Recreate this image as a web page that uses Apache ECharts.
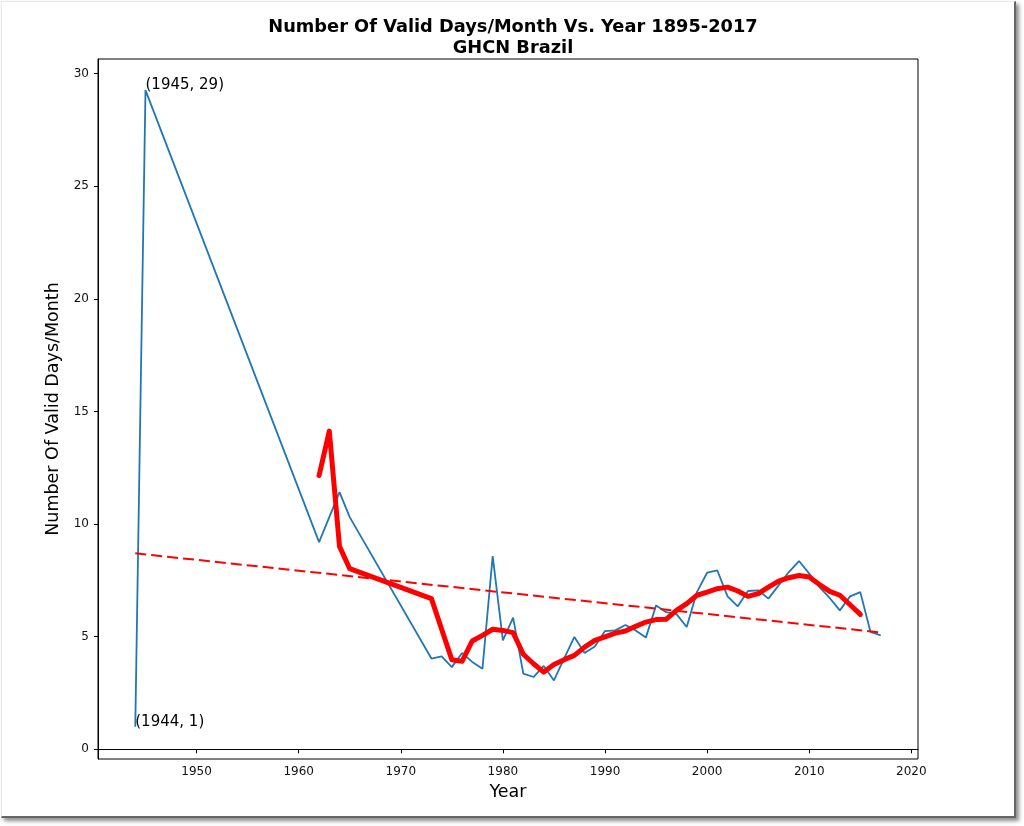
<!DOCTYPE html>
<html>
<head>
<meta charset="utf-8">
<script src="https://cdn.jsdelivr.net/npm/echarts@6/dist/echarts.min.js"></script>
<style>
html,body{margin:0;padding:0;background:#fff;}
#main{position:absolute;left:0;top:0;width:1024px;height:826px;}
.frame{position:absolute;left:1px;top:1px;width:1012px;height:814px;border:1px solid #e8e8e8;border-right:2px solid #666;border-bottom:2px solid #666;box-shadow:3px 3px 4px rgba(0,0,0,0.45);pointer-events:none;}
</style>
</head>
<body>
<div id="main"></div>
<div class="frame"></div>
<script>
// yearly valid days/month (blue)
const years = [1944,1945,1962,1964,1965,1973,1974,1975,1976,1977,1978,1979,1980,1981,1982,1983,1984,1985,1986,1987,1988,1989,1990,
	1991,1992,1993,1994,1995,1996,1997,1998,1999,2000,2001,2002,2003,2004,2005,2006,2007,2008,2009,2010,2011,2012,2013,2014,2015,2016,2017];
const days = [1,29.27,9.2,11.42,10.31,4.03,4.13,3.65,4.28,3.88,3.58,8.58,4.84,5.85,3.36,3.21,3.70,3.06,4.04,4.99,4.28,4.57,5.25,
	5.28,5.52,5.28,4.96,6.39,6.09,6.0,5.43,6.98,7.84,7.94,6.79,6.35,7.03,7.06,6.69,7.28,7.87,8.36,7.80,7.2,6.72,6.17,6.79,6.98,5.21,5.06];
// smoothed (thick red)
const avgYears = [1962,1963,1964,1965,1973,1975,1976,1977,1978,1979,1980,1981,1982,1983,1984,1985,1986,1987,1988,1989,1990,
	1991,1992,1993,1994,1995,1996,1997,1998,1999,2000,2001,2002,2003,2004,2005,2006,2007,2008,2009,2010,2011,2012,2013,2014,2015];
const avgDays = [12.16,14.13,9.01,8.02,6.69,3.98,3.91,4.81,5.06,5.33,5.28,5.18,4.22,3.8,3.43,3.77,3.98,4.17,4.54,4.84,4.99,
	5.16,5.25,5.46,5.65,5.76,5.78,6.17,6.47,6.84,6.98,7.13,7.2,7.03,6.79,6.91,7.2,7.47,7.62,7.72,7.65,7.32,7.01,6.84,6.42,5.99];
// trend line ends
const trendYears = [1944,2017];
const trendDays = [8.7,5.19];
// annotations
const notes = [[1945,29.27,'(1945, 29)'],[1944,1,'(1944, 1)']];
const xTicks = [1950,1960,1970,1980,1990,2000,2010,2020];
const yTicks = [0,5,10,15,20,25,30];

const font = 'DejaVu Sans';
const pairs = (xs,ys) => xs.map((x,i)=>[x,ys[i]]);

let myChart = echarts.init(document.getElementById('main'));
let option = {
	animation:false,
	backgroundColor:'#fff',
	title:{
		text:'Number Of Valid Days/Month Vs. Year 1895-2017\nGHCN Brazil',
		left:508, top:12, textAlign:'center',
		textStyle:{fontFamily:font,fontSize:17.8,fontWeight:'bold',color:'#000',lineHeight:21}
	},
	grid:{left:98,top:59,right:106,bottom:67,show:true,borderColor:'#000',borderWidth:1},
	xAxis:{
		type:'value', min:1940.35, max:2020.65,
		name:'Year', nameLocation:'middle', nameGap:24,
		nameTextStyle:{fontFamily:font,fontSize:17.5,color:'#000'},
		axisLine:{lineStyle:{color:'#000',width:1}},
		axisTick:{length:4,lineStyle:{color:'#000'},customValues:xTicks},
		axisLabel:{fontFamily:font,fontSize:12,color:'#111',margin:7,customValues:xTicks,formatter:v=>String(v)},
		splitLine:{show:false}
	},
	yAxis:{
		type:'value', min:-0.43, max:30.65,
		name:'Number Of Valid Days/Month', nameLocation:'middle', nameGap:29,
		nameTextStyle:{fontFamily:font,fontSize:17.5,color:'#000'},
		axisLine:{show:true,lineStyle:{color:'#000',width:1}},
		axisTick:{show:true,length:4,lineStyle:{color:'#000'},customValues:yTicks},
		axisLabel:{fontFamily:font,fontSize:12,color:'#111',margin:9,customValues:yTicks,formatter:v=>String(v)},
		splitLine:{show:false}
	},
	series:[
		{
			type:'line', data:pairs(years,days), showSymbol:false,
			lineStyle:{color:'#1f77b4',width:1.8}, z:2
		},
		{
			type:'line', data:pairs(avgYears,avgDays), showSymbol:false,
			lineStyle:{color:'#ff0000',width:5,join:'round',cap:'round'}, z:3
		},
		{
			type:'line', data:pairs(trendYears,trendDays), showSymbol:false,
			lineStyle:{color:'#ff0000',width:2,type:[11,5]}, z:4
		},
		{
			type:'scatter', symbolSize:0, silent:true,
			itemStyle:{opacity:1},
			data:notes.map(n=>({value:[n[0],n[1]],name:n[2]})),
			label:{show:true,position:[0,0],align:'left',verticalAlign:'bottom',offset:[0,3],
				formatter:p=>p.name,fontFamily:font,fontSize:15,color:'#000'}
		}
	]
};
myChart.setOption(option);
</script>
</body>
</html>
